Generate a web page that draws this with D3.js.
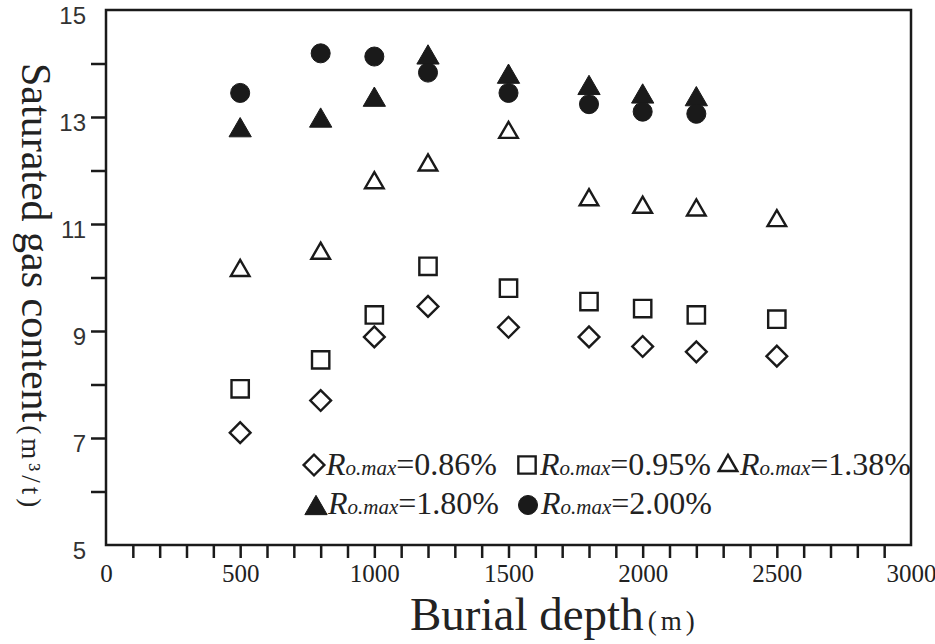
<!DOCTYPE html>
<html>
<head>
<meta charset="utf-8">
<script src="https://cdn.jsdelivr.net/npm/d3@7"></script>
<style>
  body { margin: 0; background: #fff; }
  svg { display: block; }
</style>
</head>
<body>
<svg id="body" width="935" height="644"></svg>
<script>
// burial depth (m) for each measurement
let depths = [500, 800, 1000, 1200, 1500, 1800, 2000, 2200, 2500]

// saturated gas content (m3/t) per Ro.max series, null = no point
let ro086 = [7.10, 7.70, 8.89, 9.46, 9.07, 8.89, 8.71, 8.61, 8.53]
let ro095 = [7.92, 8.46, 9.30, 10.21, 9.80, 9.55, 9.42, 9.30, 9.22]
let ro138 = [10.18, 10.50, 11.82, 12.15, 12.76, 11.50, 11.36, 11.31, 11.11]
let ro180 = [12.81, 12.99, 13.38, 14.17, 13.81, 13.60, 13.44, 13.39, null]
let ro200 = [13.45, 14.19, 14.13, 13.83, 13.45, 13.24, 13.10, 13.06, null]

let seriesNames = ["0.86%", "0.95%", "1.38%", "1.80%", "2.00%"]

let xLabelTicks = [0, 500, 1000, 1500, 2000, 2500, 3000]
let xMinorTicks = d3.range(100, 3000, 100)
let yLabelTicks = [5, 7, 9, 11, 13, 15]
let yMinorTicks = [6, 8, 10, 12, 14]

let body = d3.select("#body")
let ink = "#1a1a1a"

//scales
let xscale = d3.scaleLinear().domain([0, 3000]).range([106, 911])
let yscale = d3.scaleLinear().domain([5, 15]).range([545, 10])

// triangle centred on its bounding box (not on the centroid)
let triBox = {
	draw(ctx, size) {
		let s = Math.sqrt(size / 0.433)
		let h = s * 0.866
		ctx.moveTo(0, -h / 2)
		ctx.lineTo(s / 2, h / 2)
		ctx.lineTo(-s / 2, h / 2)
		ctx.closePath()
	}
}

let styles = [
	{ type: d3.symbolSquare, size: 215, rotate: 45, fill: "none" },
	{ type: d3.symbolSquare, size: 300, rotate: 0, fill: "none" },
	{ type: triBox, size: 150, rotate: 0, fill: "none" },
	{ type: triBox, size: 215, rotate: 0, fill: ink },
	{ type: d3.symbolCircle, size: 285, rotate: 0, fill: ink }
]
let allSeries = [ro086, ro095, ro138, ro180, ro200]

//frame
body.append("rect")
	.attr("x", xscale(0))
	.attr("y", yscale(15))
	.attr("width", xscale(3000) - xscale(0))
	.attr("height", yscale(5) - yscale(15))
	.attr("fill", "none")
	.attr("stroke", ink)
	.attr("stroke-width", 2.5)

//x axis minor ticks
let xTicks = body.append("g")
	.attr("transform", "translate(0," + yscale(5) + ")")
	.call(d3.axisBottom(xscale).tickValues(xMinorTicks).tickSize(13).tickFormat(""))
xTicks.select(".domain").remove()
xTicks.selectAll("line").attr("stroke", ink).attr("stroke-width", 2.5)

//x axis labels
let xLab = body.append("g")
	.attr("transform", "translate(0," + yscale(5) + ")")
	.call(d3.axisBottom(xscale).tickValues(xLabelTicks).tickSize(0).tickPadding(19).tickFormat(d3.format("d")))
xLab.select(".domain").remove()
xLab.selectAll("text")
	.attr("fill", "#222")
	.style("font-family", "'Liberation Serif', 'Times New Roman', serif")
	.style("font-size", "25px")

//y axis ticks (minor + labelled, not at the frame corners)
let yTicks = body.append("g")
	.attr("transform", "translate(" + xscale(0) + ",0)")
	.call(d3.axisLeft(yscale).tickValues(yMinorTicks.concat([7, 9, 11, 13])).tickSize(15).tickFormat(""))
yTicks.select(".domain").remove()
yTicks.selectAll("line").attr("stroke", ink).attr("stroke-width", 2.5)

//y axis labels
let yLab = body.append("g")
	.attr("transform", "translate(" + xscale(0) + ",0)")
	.call(d3.axisLeft(yscale).tickValues(yLabelTicks).tickSize(0).tickPadding(20))
yLab.select(".domain").remove()
yLab.selectAll("text")
	.attr("dy", "0.55em")
	.attr("fill", "#333")
	.style("font-family", "'Liberation Sans', Arial, sans-serif")
	.style("font-size", "24px")

//points
allSeries.forEach(function(values, i) {
	let st = styles[i]
	let pts = depths.map((d, j) => ({ depth: d, value: values[j] })).filter(d => d.value != null)
	body.append("g").selectAll("path")
		.data(pts)
		.enter()
		.append("path")
		.attr("d", d3.symbol().type(st.type).size(st.size))
		.attr("transform", d => "translate(" + xscale(d.depth) + "," + yscale(d.value) + ") rotate(" + st.rotate + ")")
		.attr("fill", st.fill)
		.attr("stroke", ink)
		.attr("stroke-width", st.fill == "none" ? 2.4 : 1)
})

//legend
let legendPos = [
	{ sx: 314, sy: 465, tx: 326, ty: 475 },
	{ sx: 527, sy: 465, tx: 540, ty: 475 },
	{ sx: 728, sy: 463, tx: 740, ty: 475 },
	{ sx: 316, sy: 505, tx: 328, ty: 514 },
	{ sx: 528, sy: 505, tx: 541, ty: 514 }
]
seriesNames.forEach(function(name, i) {
	let st = styles[i]
	let p = legendPos[i]
	body.append("path")
		.attr("d", d3.symbol().type(st.type).size(st.size))
		.attr("transform", "translate(" + p.sx + "," + p.sy + ") rotate(" + st.rotate + ")")
		.attr("fill", st.fill)
		.attr("stroke", ink)
		.attr("stroke-width", st.fill == "none" ? 2.4 : 1)

	let t = body.append("text")
		.attr("x", p.tx)
		.attr("y", p.ty)
		.attr("fill", "#222")
		.style("font-family", "'Liberation Serif', 'Times New Roman', serif")
		.style("font-size", "32px")
	t.append("tspan").style("font-style", "italic").text("R")
	t.append("tspan").style("font-style", "italic").style("font-size", "21px").text("o.max")
	t.append("tspan").text("=" + name)
})

//x axis title
let xt = body.append("text")
	.attr("x", 410)
	.attr("y", 630)
	.attr("fill", "#222")
	.style("font-family", "'Liberation Serif', 'Times New Roman', serif")
	.style("font-size", "47px")
xt.append("tspan").text("Burial depth")
xt.append("tspan").style("font-size", "27px").style("letter-spacing", "4px").attr("dx", 4).text("(m)")

//y axis title
let yt = body.append("text")
	.attr("transform", "translate(22, 63) rotate(90)")
	.attr("fill", "#222")
	.style("font-family", "'Liberation Serif', 'Times New Roman', serif")
	.style("font-size", "42px")
yt.append("tspan").text("Saturated gas content")
yt.append("tspan").style("font-size", "27px").style("letter-spacing", "4px").attr("dx", 3).text("(m³/t)")
</script>
</body>
</html>
